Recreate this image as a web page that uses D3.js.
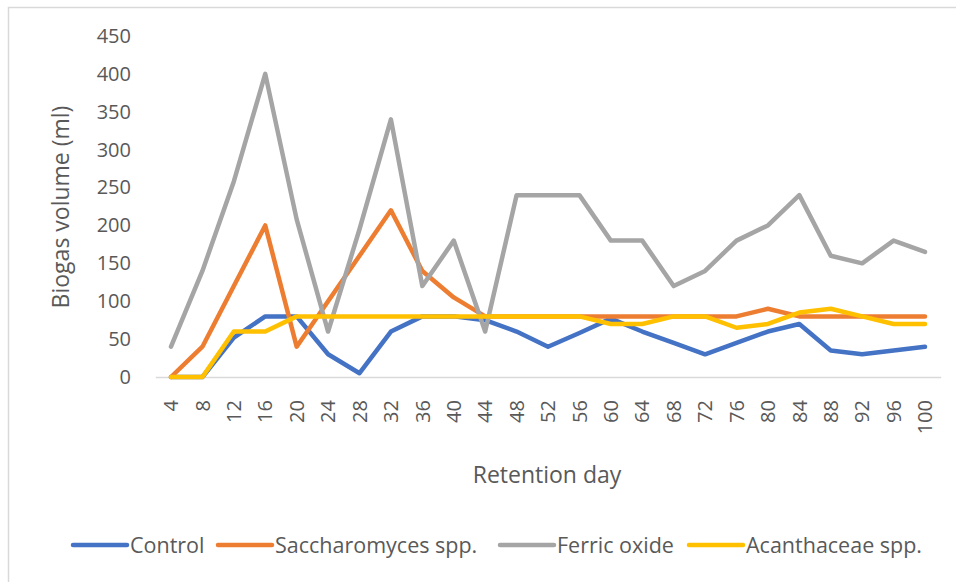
<!DOCTYPE html>
<html><head><meta charset="utf-8">
<script src="https://cdn.jsdelivr.net/npm/d3@7"></script>
<style>body{margin:0;background:#fff}svg{display:block}text{font-family:"Open Sans",sans-serif;fill:#595959}</style>
</head><body><svg id="c" width="956" height="582"></svg>
<script>
const days = [4,8,12,16,20,24,28,32,36,40,44,48,52,56,60,64,68,72,76,80,84,88,92,96,100];
const control = [0,0,52,80,80,30,5,60,80,80,75,60,40,58,77,60,45,30,45,60,70,35,30,35,40];
const saccharomyces = [0,40,120,200,40,100,160,220,140,105,80,80,80,80,80,80,80,80,80,90,80,80,80,80,80];
const ferric = [40,140,258,400,208,60,195,340,120,180,60,240,240,240,180,180,120,140,180,200,240,160,150,180,165];
const acanthaceae = [0,0,60,60,80,80,80,80,80,80,80,80,80,80,70,70,80,80,65,70,85,90,80,70,70];
const yTicks = [0,50,100,150,200,250,300,350,400,450];
const seriesNames = ["Control","Saccharomyces spp.","Ferric oxide","Acanthaceae spp."];
const seriesColors = ["#4472C4","#ED7D31","#A5A5A5","#FFC000"];
const seriesData = [control, saccharomyces, ferric, acanthaceae];

const svg = d3.select("#c");
svg.append("rect").attr("x",8.5).attr("y",7.5).attr("width",960).attr("height",600)
  .attr("fill","none").attr("stroke","#d9d9d9").attr("stroke-width",1.5);

const x = d3.scaleBand().domain(days).range([155.3,940.7]);
const y = d3.scaleLinear().domain([0,450]).range([377,36]);

// y axis labels
const ya = svg.append("g").attr("transform","translate(140,0)")
  .call(d3.axisLeft(y).tickValues(yTicks).tickSize(0).tickPadding(9));
ya.select(".domain").remove();
ya.selectAll("text").attr("font-size",20).style("fill","#595959").attr("font-family","Open Sans, sans-serif");

// x axis
const xa = svg.append("g").attr("transform","translate(0,377)")
  .call(d3.axisBottom(x).tickSize(0));
xa.select(".domain").attr("stroke","#d9d9d9").attr("stroke-width",1.5);
xa.selectAll("text").attr("font-size",20).style("fill","#595959").attr("font-family","Open Sans, sans-serif")
  .attr("transform","rotate(-90)").attr("text-anchor","end").attr("dy","0.36em").attr("x",-23).attr("y",0);

// lines
const line = d3.line().x((d,i)=>x(days[i])+x.bandwidth()/2).y(d=>y(d));
seriesData.forEach((s,k)=>{
  svg.append("path").datum(s).attr("d",line).attr("fill","none")
    .attr("stroke",seriesColors[k]).attr("stroke-width",4.5)
    .attr("stroke-linejoin","round").attr("stroke-linecap","round");
});

// titles
svg.append("text").attr("transform","translate(61,207) rotate(-90)").attr("text-anchor","middle")
  .attr("dy","0.35em").attr("font-size",23).text("Biogas volume (ml)");
svg.append("text").attr("x",547).attr("y",475).attr("text-anchor","middle").attr("dy","0.35em")
  .attr("font-size",23).text("Retention day");

// legend
const legX = [73,218,500,689];
seriesNames.forEach((n,k)=>{
  const g = svg.append("g").attr("transform",`translate(${legX[k]},545)`);
  g.append("line").attr("x1",0).attr("x2",54).attr("y1",0).attr("y2",0)
    .attr("stroke",seriesColors[k]).attr("stroke-width",4.5).attr("stroke-linecap","round");
  g.append("text").attr("x",57).attr("dy","0.35em").attr("font-size",21.5).text(n);
});
</script></body></html>
